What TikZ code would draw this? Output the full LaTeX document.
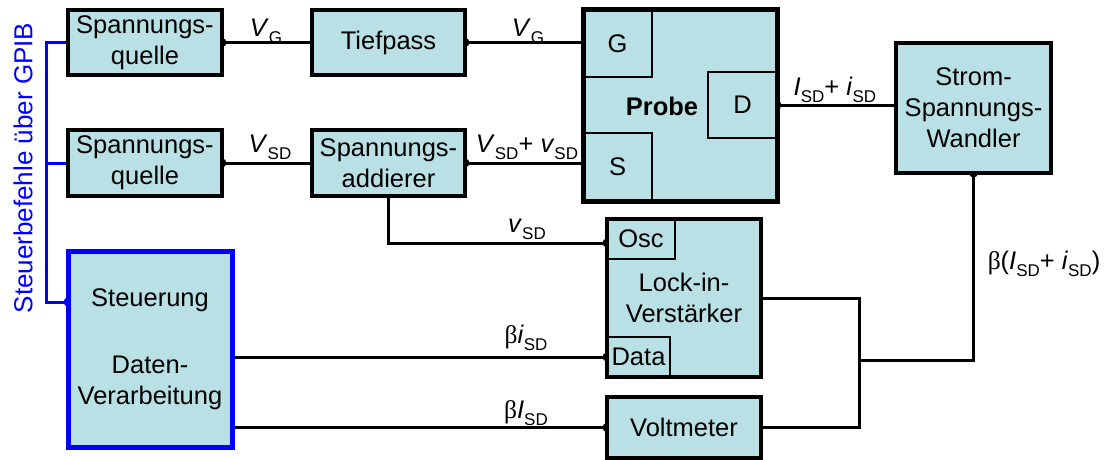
\documentclass[tikz,border=0pt]{standalone}
\usepackage{fontspec}
\setmainfont{Liberation Sans}
\newfontfamily\symf{Liberation Serif}
\definecolor{boxfill}{RGB}{185,224,228}
\pgfdeclarelayer{bg}
\pgfsetlayers{bg,main}
\newcommand\sbs[1]{\raisebox{-0.28em}{\fontsize{17}{17}\selectfont #1}}
\newcommand\bet{{\symf β}}
\begin{document}
\begin{tikzpicture}[x=1pt,y=-1pt, font=\fontsize{25.5}{31}\selectfont,
 blk/.style={draw=black, line width=3.5pt, fill=boxfill, inner sep=0pt, outer sep=0pt, align=center},
 subbox/.style={draw=black, line width=2pt, inner sep=0pt, outer sep=0pt, align=center},
 wire/.style={line width=3pt, black},
 bluewire/.style={line width=3pt, blue},
 lbl/.style={inner sep=0pt}]
\useasboundingbox (0,0) rectangle (1109,460);
% boxes
\node[blk, minimum width=154pt, minimum height=65pt] (sq1) at (145,42.5) {Spannungs-\\quelle};
\node[blk, minimum width=154pt, minimum height=66pt] (sq2) at (145,163) {Spannungs-\\quelle};
\node[blk, minimum width=153pt, minimum height=65pt] (tp) at (388.5,42.5) {Tiefpass};
\node[blk, minimum width=153pt, minimum height=66pt] (add) at (388.5,163) {Spannungs-\\addierer};
\node[blk, line width=5pt, minimum width=194pt, minimum height=191pt] (probe) at (680,105.5) {};
\node[subbox, minimum width=69pt, minimum height=67pt] (G) at (617.5,43.5) {G};
\node[subbox, minimum width=69pt, minimum height=68pt] (S) at (617.5,167) {S};
\node[subbox, minimum width=69pt, minimum height=66pt] (D) at (742.5,105) {D};
\node[lbl, font=\fontsize{25.5}{31}\selectfont\bfseries] (plbl) at (662,106) {Probe};
\node[blk, minimum width=155pt, minimum height=130pt] (wand) at (973.5,108) {Strom-\\Spannungs-\\Wandler};
\node[blk, minimum width=154pt, minimum height=158pt] (lock) at (684,298) {Lock-in-\\Verstärker};
\node[subbox, minimum width=68pt, minimum height=40pt] (osc) at (641,239) {Osc};
\node[subbox, minimum width=63pt, minimum height=40pt] (data) at (638.5,357) {Data};
\node[blk, minimum width=154pt, minimum height=61pt] (volt) at (684,427.5) {Voltmeter};
\node[blk, draw=blue, line width=5pt, minimum width=164pt, minimum height=196pt] (steu) at (150,349) {Steuerung\\[36pt]Daten-\\Verarbeitung};
% helper coordinates
\coordinate (jn) at (859,360);
\coordinate (bus) at (46,0);
\coordinate (oscin) at ([yshift=-4pt]osc.west);
\coordinate (stin) at ([yshift=47pt]steu.west);
% connectors
\begin{pgfonlayer}{bg}
\draw[wire] (sq1.east) -- (tp.west);
\draw[wire] (sq2.east) -- (add.west);
\draw[wire] (tp.east) -- (tp.east -| probe.west);
\draw[wire] (add.east) -- (add.east -| probe.west);
\draw[wire] (D.east) -- (D.east -| wand.west);
\draw[wire] (wand.south) |- (jn);
\draw[wire] (lock.east) -- (lock.east -| jn) -- (volt.east -| jn) -- (volt.east);
\draw[wire] (add.south) |- (oscin);
\draw[wire] (steu.east |- data.west) -- (data.west);
\draw[wire] (steu.east |- volt.west) -- (volt.west);
\draw[bluewire] (sq1.west) -- (sq1.west -| bus) -- (bus |- stin) -- (stin);
\draw[bluewire] (sq2.west) -- (sq2.west -| bus);
\foreach \p in {sq1.east, sq2.east, tp.east, add.east, D.east, wand.south, oscin, data.west, volt.west}
  \fill (\p) circle (4.5);
\fill[blue] (stin) circle (4.5);
\end{pgfonlayer}
% labels
\node[rotate=90, text=blue, lbl, font=\fontsize{26}{31}\selectfont] (gpib) at (23,168) {Steuerbefehle über GPIB};
\node[lbl] (l1) at (266,31) {\textit{V}\sbs{G}};
\node[lbl] (l2) at (528,31) {\textit{V}\sbs{G}};
\node[lbl] (l3) at (270,147) {\textit{V}\sbs{SD}};
\node[lbl] (l4) at (527,147) {\textit{V}\sbs{SD}+ \textit{v}\sbs{SD}};
\node[lbl] (l5) at (835,90) {\textit{I}\sbs{SD}+ \textit{i}\sbs{SD}};
\node[lbl] (l6) at (527,229) {\textit{v}\sbs{SD}};
\node[lbl] (l7) at (526,338) {\bet\textit{i}\sbs{SD}};
\node[lbl] (l8) at (526,413) {\bet\textit{I}\sbs{SD}};
\node[lbl] (l9) at (1044,264) {\bet(\textit{I}\sbs{SD}+ \textit{i}\sbs{SD})};
\end{tikzpicture}
\end{document}
